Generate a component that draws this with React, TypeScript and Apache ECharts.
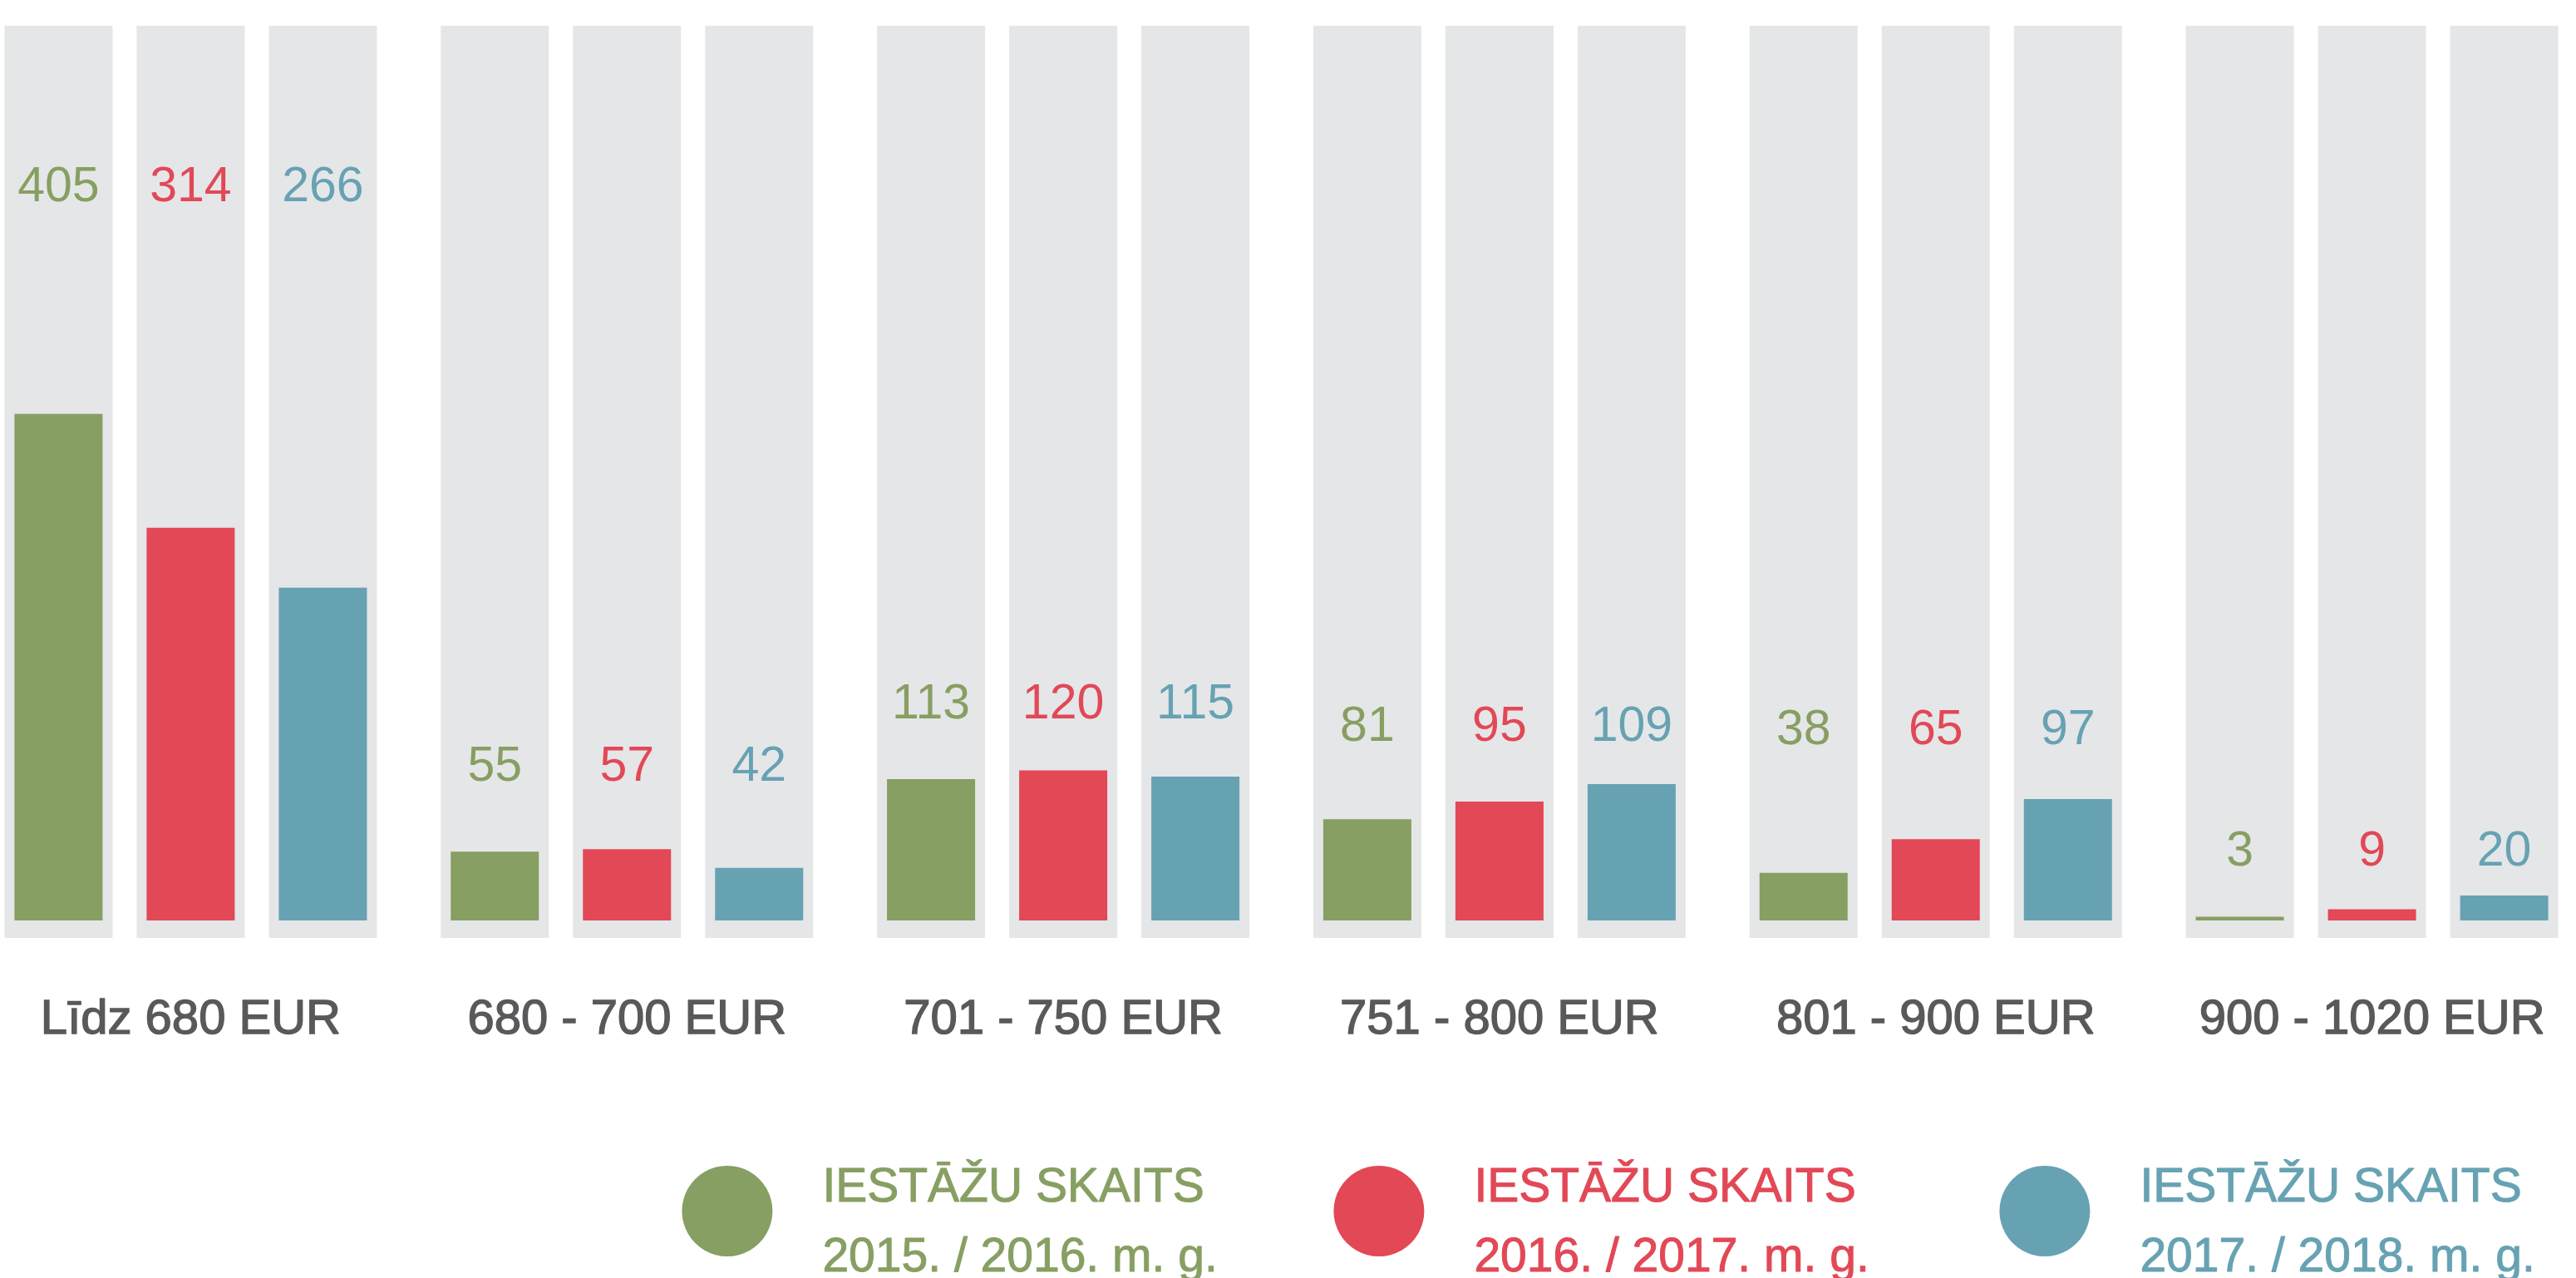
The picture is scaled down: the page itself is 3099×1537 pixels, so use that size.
import React, { useEffect, useRef } from "react";
import * as echarts from "echarts";

const categories = ["Līdz 680 EUR", "680 - 700 EUR", "701 - 750 EUR", "751 - 800 EUR", "801 - 900 EUR", "900 - 1020 EUR"];
const years = ["2015. / 2016. m. g.", "2016. / 2017. m. g.", "2017. / 2018. m. g."];
const values2015 = [405, 55, 113, 81, 38, 3];
const values2016 = [314, 57, 120, 95, 65, 9];
const values2017 = [266, 42, 115, 109, 97, 20];
// value-axis level at which each group's numbers are printed
const labelLevels = [588, 125, 175, 157, 154, 57];
const legendTitle = "IESTĀŽU SKAITS";

const colors = ["#879F62", "#E24856", "#67A2B3"];
const panelColor = "#E5E6E8";
const FONT = "'Liberation Sans', Arial, Helvetica, sans-serif";

const H = 1537;
const OFFSET_LEFT = 33.4; // the plot's first band starts left of the page
const DIV_W = 3148.8;
const BAR_TOP = 54;
const BAR_BOTTOM = 430;
const VALUE_MAX = 700;
const LABEL_FONT = 59;

export default function App() {
  const ref = useRef<HTMLDivElement>(null);
  useEffect(() => {
    if (!ref.current) return;
    const chart = echarts.init(ref.current, null, { renderer: "svg" });
    const k = (H - BAR_TOP - BAR_BOTTOM) / VALUE_MAX;
    const seriesValues = [values2015, values2016, values2017];

    const panelSeries = years.map((y, i) => ({
      name: "panel" + i,
      type: "bar",
      xAxisIndex: 0,
      yAxisIndex: 0,
      data: categories.map(() => 1),
      barWidth: 130,
      barGap: "22.3%",
      silent: true,
      itemStyle: { color: panelColor },
    }));

    const barSeries = years.map((y, i) => ({
      name: y,
      type: "bar",
      xAxisIndex: 1,
      yAxisIndex: 1,
      barWidth: 106,
      barGap: "50%",
      itemStyle: { color: colors[i] },
      data: seriesValues[i].map((v, g) => ({
        value: v,
        label: {
          show: true,
          position: "top",
          distance: (labelLevels[g] - v) * k - LABEL_FONT / 2,
          color: colors[i],
          fontSize: LABEL_FONT,
          lineHeight: LABEL_FONT,
          fontFamily: FONT,
        },
      })),
    }));

    const legendLefts = [820, 1604, 2405].map((x) => x + OFFSET_LEFT);
    const spacer = 21;
    const lineH = 84;
    const legendTop = 1367.5;

    chart.setOption({
      animation: false,
      backgroundColor: "#ffffff",
      grid: [
        { left: 0, right: 0, top: 31, bottom: H - 1128 },
        { left: 0, right: 0, top: BAR_TOP, bottom: BAR_BOTTOM },
      ],
      xAxis: [
        {
          type: "category",
          gridIndex: 0,
          data: categories,
          axisLine: { show: false },
          axisTick: { show: false },
          axisLabel: { show: false },
        },
        {
          type: "category",
          gridIndex: 1,
          data: categories,
          axisLine: { show: false },
          axisTick: { show: false },
          axisLabel: {
            interval: 0,
            margin: 115,
            verticalAlign: "middle",
            fontSize: 58,
            color: "#58595B",
            fontFamily: FONT,
            textBorderColor: "#58595B",
            textBorderWidth: 1.4,
          },
        },
      ],
      yAxis: [
        { type: "value", gridIndex: 0, min: 0, max: 1, show: false },
        { type: "value", gridIndex: 1, min: 0, max: VALUE_MAX, show: false },
      ],
      legend: years.map((y, i) => ({
        data: [y],
        left: legendLefts[i],
        top: legendTop,
        padding: 0,
        itemWidth: 109,
        itemHeight: 109,
        icon: "circle",
        selectedMode: false,
        formatter: (n: string) => "{s| }\n{a|" + legendTitle + "}\n{a|" + n + "}",
        textStyle: {
          color: colors[i],
          fontSize: 57,
          fontFamily: FONT,
          padding: [0, 0, 0, 55],
          rich: {
            s: { fontSize: 10, lineHeight: spacer, color: colors[i] },
            a: {
              fontSize: 57,
              lineHeight: lineH,
              fontFamily: FONT,
              color: colors[i],
              textBorderColor: colors[i],
              textBorderWidth: 1,
            },
          },
        },
      })),
      series: [...panelSeries, ...barSeries],
    });
    return () => chart.dispose();
  }, []);
  return (
    <div
      ref={ref}
      style={{ position: "fixed", left: -OFFSET_LEFT, top: 0, width: DIV_W, height: H, background: "#fff" }}
    />
  );
}
